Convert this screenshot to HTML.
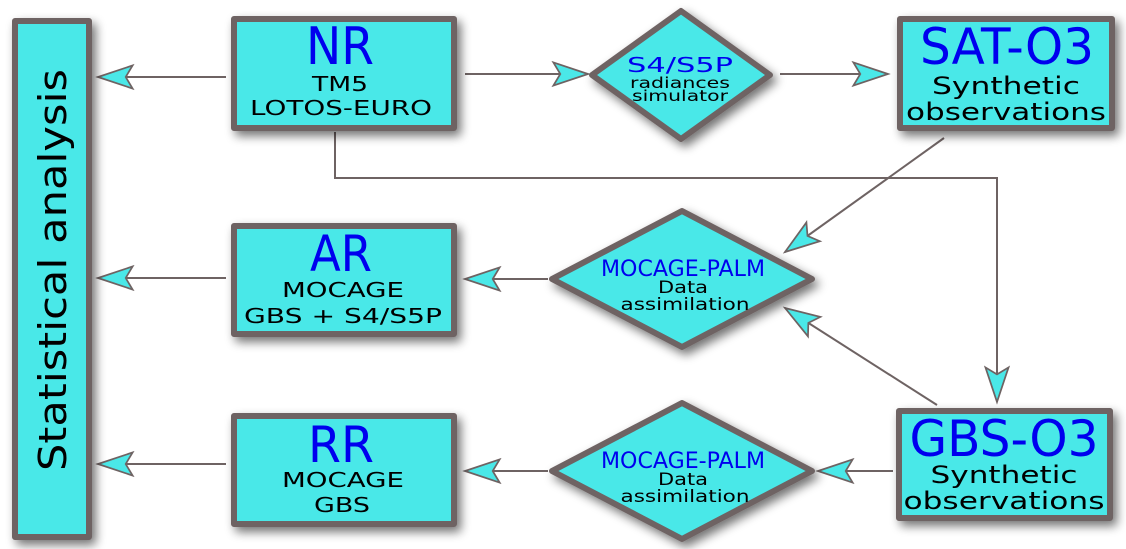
<!DOCTYPE html>
<html><head><meta charset="utf-8"><style>
html,body{margin:0;padding:0;background:#fff;width:1126px;height:549px;overflow:hidden}
</style></head><body>
<svg width="1126" height="549" viewBox="0 0 1126 549" xmlns="http://www.w3.org/2000/svg">
<defs>
<filter id="sh" x="-20%" y="-20%" width="140%" height="140%">
<feGaussianBlur in="SourceAlpha" stdDeviation="5"/>
<feOffset dx="4" dy="5" result="b"/>
<feComponentTransfer><feFuncA type="linear" slope="0.55"/></feComponentTransfer>
<feMerge><feMergeNode/><feMergeNode in="SourceGraphic"/></feMerge>
</filter>
<marker id="ar" markerUnits="userSpaceOnUse" markerWidth="40" markerHeight="30" refX="0" refY="0" viewBox="-32 -13 34 26" orient="auto">
<path d="M0 0 L-30 -10 L-24 0 L-30 10 Z" fill="#4ae8e8" stroke="#6e6363" stroke-width="1.5"/>
</marker>
</defs>
<g stroke="#6e6363" stroke-width="2" fill="none">
<line x1="226" y1="77" x2="98" y2="77" marker-end="url(#ar)"/>
<line x1="465" y1="74" x2="588" y2="74" marker-end="url(#ar)"/>
<line x1="780" y1="74" x2="888" y2="74" marker-end="url(#ar)"/>
<polyline points="335,132 335,178 997,178 997,402" marker-end="url(#ar)"/>
<line x1="944" y1="138" x2="785" y2="252" marker-end="url(#ar)"/>
<line x1="937" y1="405" x2="785" y2="308" marker-end="url(#ar)"/>
<line x1="548" y1="279" x2="465" y2="279" marker-end="url(#ar)"/>
<line x1="226" y1="278" x2="98" y2="278" marker-end="url(#ar)"/>
<line x1="893" y1="471" x2="818" y2="471" marker-end="url(#ar)"/>
<line x1="548" y1="471" x2="465" y2="471" marker-end="url(#ar)"/>
<line x1="226" y1="464" x2="98" y2="464" marker-end="url(#ar)"/>
</g>
<g fill="#4ae8e8" stroke="#6e6363" stroke-width="6" stroke-linejoin="round" filter="url(#sh)">
<rect x="15" y="21" width="74" height="516"/>
<rect x="234" y="19" width="220" height="109"/>
<rect x="900" y="19" width="212" height="109"/>
<rect x="234" y="226" width="220" height="108"/>
<rect x="234" y="416" width="220" height="108"/>
<rect x="899" y="411" width="211" height="107"/>
<polygon points="592,75 681,11 770,75 681,139"/>
<polygon points="552,279 682,211 812,279 682,347"/>
<polygon points="552,471 682,403 812,471 682,539"/>
</g>
<g font-family="'DejaVu Sans',sans-serif" text-anchor="middle">
<text transform="translate(66,270) rotate(-90)" font-size="38" fill="#000" textLength="402" lengthAdjust="spacingAndGlyphs">Statistical analysis</text>
<text x="340" y="64" font-size="52" fill="#0000ee" textLength="68" lengthAdjust="spacingAndGlyphs">NR</text>
<text x="340" y="91" font-size="20" fill="#000" textLength="56" lengthAdjust="spacingAndGlyphs">TM5</text>
<text x="341" y="115" font-size="20" fill="#000" textLength="182" lengthAdjust="spacingAndGlyphs">LOTOS-EURO</text>
<text x="1007" y="64" font-size="50" fill="#0000ee" textLength="174" lengthAdjust="spacingAndGlyphs">SAT-O3</text>
<text x="1006" y="94" font-size="24" fill="#000" textLength="148" lengthAdjust="spacingAndGlyphs">Synthetic</text>
<text x="1006" y="120" font-size="24" fill="#000" textLength="200" lengthAdjust="spacingAndGlyphs">observations</text>
<text x="680" y="72" font-size="20" fill="#0000ee" textLength="106" lengthAdjust="spacingAndGlyphs">S4/S5P</text>
<text x="680" y="88" font-size="15" fill="#000" textLength="100" lengthAdjust="spacingAndGlyphs">radiances</text>
<text x="680" y="101" font-size="15" fill="#000" textLength="96" lengthAdjust="spacingAndGlyphs">simulator</text>
<text x="341" y="271" font-size="50" fill="#0000ee" textLength="62" lengthAdjust="spacingAndGlyphs">AR</text>
<text x="343" y="297" font-size="20" fill="#000" textLength="122" lengthAdjust="spacingAndGlyphs">MOCAGE</text>
<text x="343" y="323" font-size="20" fill="#000" textLength="198" lengthAdjust="spacingAndGlyphs">GBS + S4/S5P</text>
<text x="341" y="462" font-size="50" fill="#0000ee" textLength="66" lengthAdjust="spacingAndGlyphs">RR</text>
<text x="343" y="487" font-size="20" fill="#000" textLength="122" lengthAdjust="spacingAndGlyphs">MOCAGE</text>
<text x="342" y="512" font-size="20" fill="#000" textLength="56" lengthAdjust="spacingAndGlyphs">GBS</text>
<text x="1004" y="456" font-size="50" fill="#0000ee" textLength="189" lengthAdjust="spacingAndGlyphs">GBS-O3</text>
<text x="1004" y="483" font-size="24" fill="#000" textLength="147" lengthAdjust="spacingAndGlyphs">Synthetic</text>
<text x="1004" y="509" font-size="24" fill="#000" textLength="201" lengthAdjust="spacingAndGlyphs">observations</text>
<text x="683" y="276" font-size="22" fill="#0000ee" textLength="164" lengthAdjust="spacingAndGlyphs">MOCAGE-PALM</text>
<text x="683" y="293" font-size="17" fill="#000" textLength="50" lengthAdjust="spacingAndGlyphs">Data</text>
<text x="685" y="310" font-size="17" fill="#000" textLength="129" lengthAdjust="spacingAndGlyphs">assimilation</text>
<text x="683" y="468" font-size="22" fill="#0000ee" textLength="164" lengthAdjust="spacingAndGlyphs">MOCAGE-PALM</text>
<text x="683" y="485" font-size="17" fill="#000" textLength="50" lengthAdjust="spacingAndGlyphs">Data</text>
<text x="685" y="502" font-size="17" fill="#000" textLength="129" lengthAdjust="spacingAndGlyphs">assimilation</text>
</g>
</svg>
</body></html>
